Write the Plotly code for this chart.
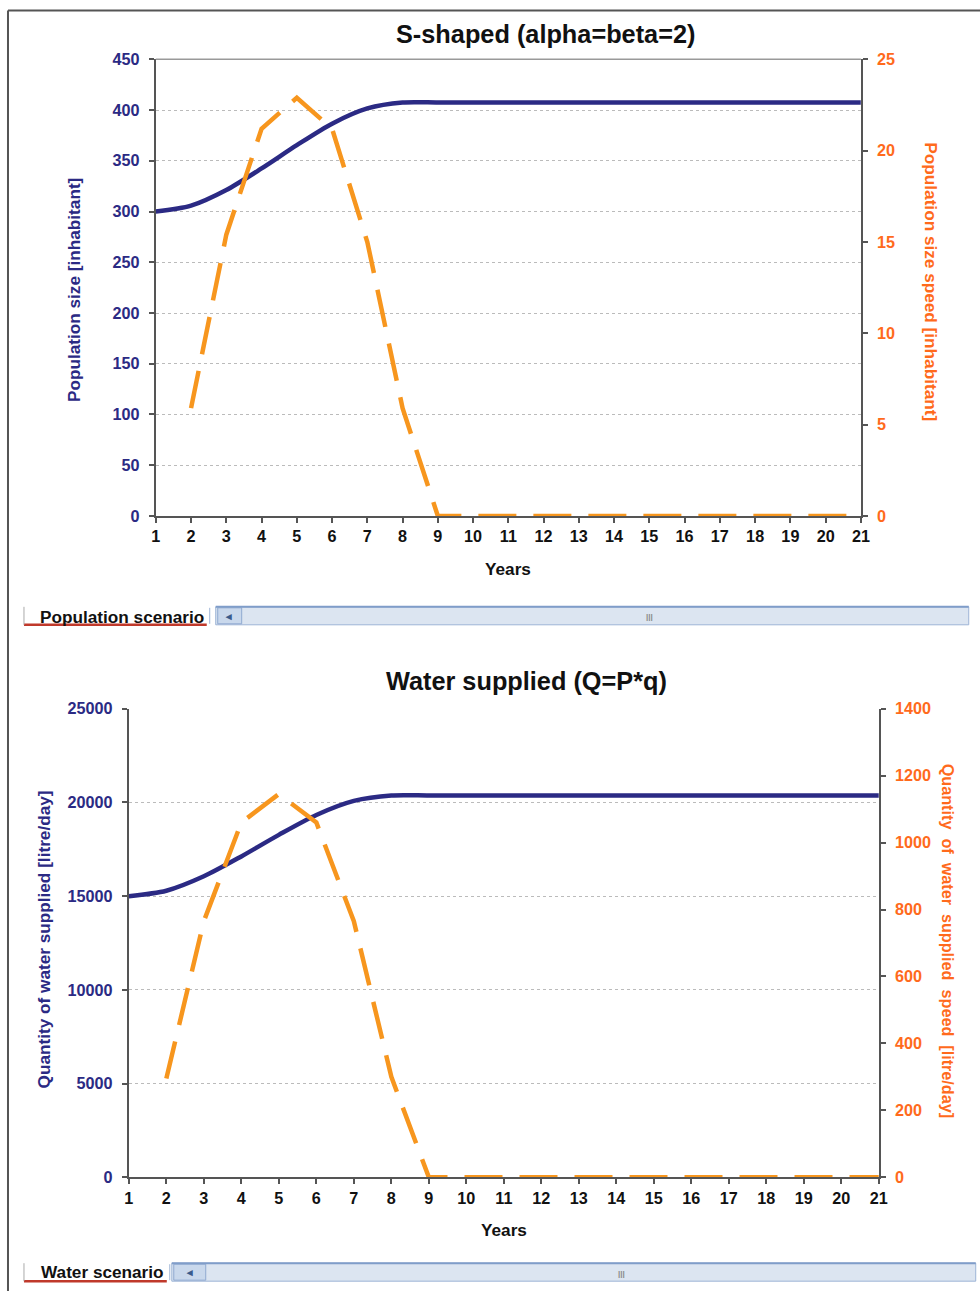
import plotly.graph_objects as go

W, H = 980, 1291
# the photographed page comes out slightly scaled/offset; pre-compensate layout positions
SX, OX = 0.987, 3.0
SY, OY = 0.987, 7.6
FS = 1 / 0.987

# ---------------- data ----------------
years = list(range(1, 22))
population = [300, 305.9, 321.3, 342.5, 365.4, 386.6, 401.6, 407.5, 407.5, 407.5, 407.5,
              407.5, 407.5, 407.5, 407.5, 407.5, 407.5, 407.5, 407.5, 407.5, 407.5]
speed_years = list(range(2, 22))
population_speed = [5.9, 15.4, 21.2, 22.9, 21.2, 15.0, 5.9, 0, 0, 0,
                    0, 0, 0, 0, 0, 0, 0, 0, 0, 0]
water = [15000, 15290, 16060, 17120, 18270, 19330, 20080, 20370, 20370, 20370, 20370,
         20370, 20370, 20370, 20370, 20370, 20370, 20370, 20370, 20370, 20370]
water_speed = [295, 765, 1060, 1145, 1060, 765, 300, 0, 0, 0,
               0, 0, 0, 0, 0, 0, 0, 0, 0, 0]

NAVY = "#2B2A84"
ORANGE = "#F7961E"
ORANGE_TXT = "#FF6A1C"
AXIS = "#555555"
FONT = "Liberation Sans"


def px(x):
    return ((x - OX) / SX) / W


def py(y):
    return 1 - ((y - OY) / SY) / H


def fs(s):
    return round(s * FS, 1)


fig = go.Figure()
fig.add_trace(go.Scatter(x=years, y=population, mode="lines", line=dict(color=NAVY, width=4.5, shape="spline", smoothing=0.8),
                         xaxis="x", yaxis="y", showlegend=False))
fig.add_trace(go.Scatter(x=speed_years, y=population_speed, mode="lines", line=dict(color=ORANGE, width=4.5, dash="38px,17px"),
                         xaxis="x", yaxis="y2", showlegend=False))
fig.add_trace(go.Scatter(x=years, y=water, mode="lines", line=dict(color=NAVY, width=4.5, shape="spline", smoothing=0.8),
                         xaxis="x2", yaxis="y3", showlegend=False))
fig.add_trace(go.Scatter(x=speed_years, y=water_speed, mode="lines", line=dict(color=ORANGE, width=4.5, dash="38px,17px"),
                         xaxis="x2", yaxis="y4", showlegend=False))

xcommon = dict(range=[1, 21], dtick=1, tick0=1, showgrid=False, zeroline=False, showline=True,
               linecolor=AXIS, linewidth=2, ticks="outside", ticklen=5, tickwidth=2, tickcolor=AXIS,
               tickfont=dict(family=FONT, size=fs(16), color="#111111", weight="bold"))
ycommon = dict(zeroline=False, showline=True, linecolor=AXIS, linewidth=2, ticks="outside", ticklen=5,
               tickwidth=2, tickcolor=AXIS, tickformat="d", ticklabelstandoff=6)

fig.update_layout(
    width=W, height=H, paper_bgcolor="white", plot_bgcolor="white",
    margin=dict(l=0, r=0, t=0, b=0),
    xaxis=dict(domain=[px(154), px(860)], anchor="y", **xcommon),
    yaxis=dict(domain=[py(515), py(58)], anchor="x", range=[0, 450], dtick=50,
               showgrid=True, gridcolor="#BBBBBB", griddash="dot", gridwidth=1,
               tickfont=dict(family=FONT, size=fs(16), color=NAVY, weight="bold"), **ycommon),
    yaxis2=dict(overlaying="y", side="right", anchor="x", range=[0, 25], dtick=5, showgrid=False,
                tickfont=dict(family=FONT, size=fs(16), color=ORANGE_TXT, weight="bold"), **ycommon),
    xaxis2=dict(domain=[px(127), px(878)], anchor="y3", **xcommon),
    yaxis3=dict(domain=[py(1177), py(708)], anchor="x2", range=[0, 25000], dtick=5000,
                showgrid=True, gridcolor="#BBBBBB", griddash="dot", gridwidth=1,
                tickfont=dict(family=FONT, size=fs(16), color=NAVY, weight="bold"), **ycommon),
    yaxis4=dict(overlaying="y3", side="right", anchor="x2", range=[0, 1400], dtick=200, showgrid=False,
                tickfont=dict(family=FONT, size=fs(16), color=ORANGE_TXT, weight="bold"), **ycommon),
)

ann = []


def text(x, y, s, size, color, angle=0, xanchor="center"):
    ann.append(dict(x=px(x), y=py(y), xref="paper", yref="paper", text=s, showarrow=False,
                    textangle=angle, xanchor=xanchor, yanchor="middle",
                    font=dict(family=FONT, size=fs(size), color=color, weight="bold")))


text(544, 33, "S-shaped (alpha=beta=2)", 25, "#111111")
text(525, 680, "Water supplied (Q=P*q)", 25, "#111111")
text(507, 568, "Years", 17, "#111111")
text(503, 1230, "Years", 17, "#111111")
text(72, 289, "Population size [inhabitant]", 17, NAVY, -90)
text(930, 281, "Population size speed [inhabitant]", 17, ORANGE_TXT, 90)
text(42, 939, "Quantity of water supplied [litre/day]", 17, NAVY, -90)
text(948, 940, "Quantity  of  water  supplied  speed  [litre/day]", 16, ORANGE_TXT, 90)

# sheet tabs
text(36, 616, "Population scenario", 17, "#111111", xanchor="left")
text(37, 1272, "Water scenario", 17, "#111111", xanchor="left")

shapes = []


def rect(x0, y0, x1, y1, fill, line="rgba(0,0,0,0)", lw=1):
    shapes.append(dict(type="rect", xref="paper", yref="paper", x0=px(x0), x1=px(x1), y0=py(y1), y1=py(y0),
                       fillcolor=fill, line=dict(color=line, width=lw), layer="below"))


def line(x0, y0, x1, y1, color, w=1):
    shapes.append(dict(type="line", xref="paper", yref="paper", x0=px(x0), x1=px(x1), y0=py(y0), y1=py(y1),
                       line=dict(color=color, width=w)))


# outer frame
line(6, 9, 980, 9, "#555555", 2)
line(6, 9, 6, 1291, "#555555", 2)
# top border of first plot
line(154, 58, 860, 58, "#999999", 1.5)

# tab bar 1
rect(214, 606, 968, 624, "#DCE5F1", "#9DB4D6", 1)
line(214, 606, 968, 606, "#7F9DC9", 2)
rect(216, 607, 240, 623, "#C9D8EC", "#8FA9D0", 1)
line(22, 624, 205, 624, "#C0392B", 2.5)
line(22, 606, 22, 624, "#AAAAAA", 1)
line(208, 607, 208, 623, "#9DB4D6", 1)
text(227, 615, "◂", 11, "#3A5A8C")
text(648, 616, "|||", 8, "#888888")

# tab bar 2
rect(170, 1263, 975, 1281, "#DCE5F1", "#9DB4D6", 1)
line(170, 1263, 975, 1263, "#7F9DC9", 2)
rect(172, 1264, 204, 1280, "#C9D8EC", "#8FA9D0", 1)
line(22, 1281, 165, 1281, "#C0392B", 2.5)
line(22, 1263, 22, 1281, "#AAAAAA", 1)
line(168, 1264, 168, 1280, "#9DB4D6", 1)
text(188, 1272, "◂", 11, "#3A5A8C")
text(620, 1273, "|||", 8, "#888888")

fig.update_layout(annotations=ann, shapes=shapes)
fig.write_html("out.html", config={"displayModeBar": False},
               post_script="document.body.style.margin='0';document.body.style.overflow='hidden';")
